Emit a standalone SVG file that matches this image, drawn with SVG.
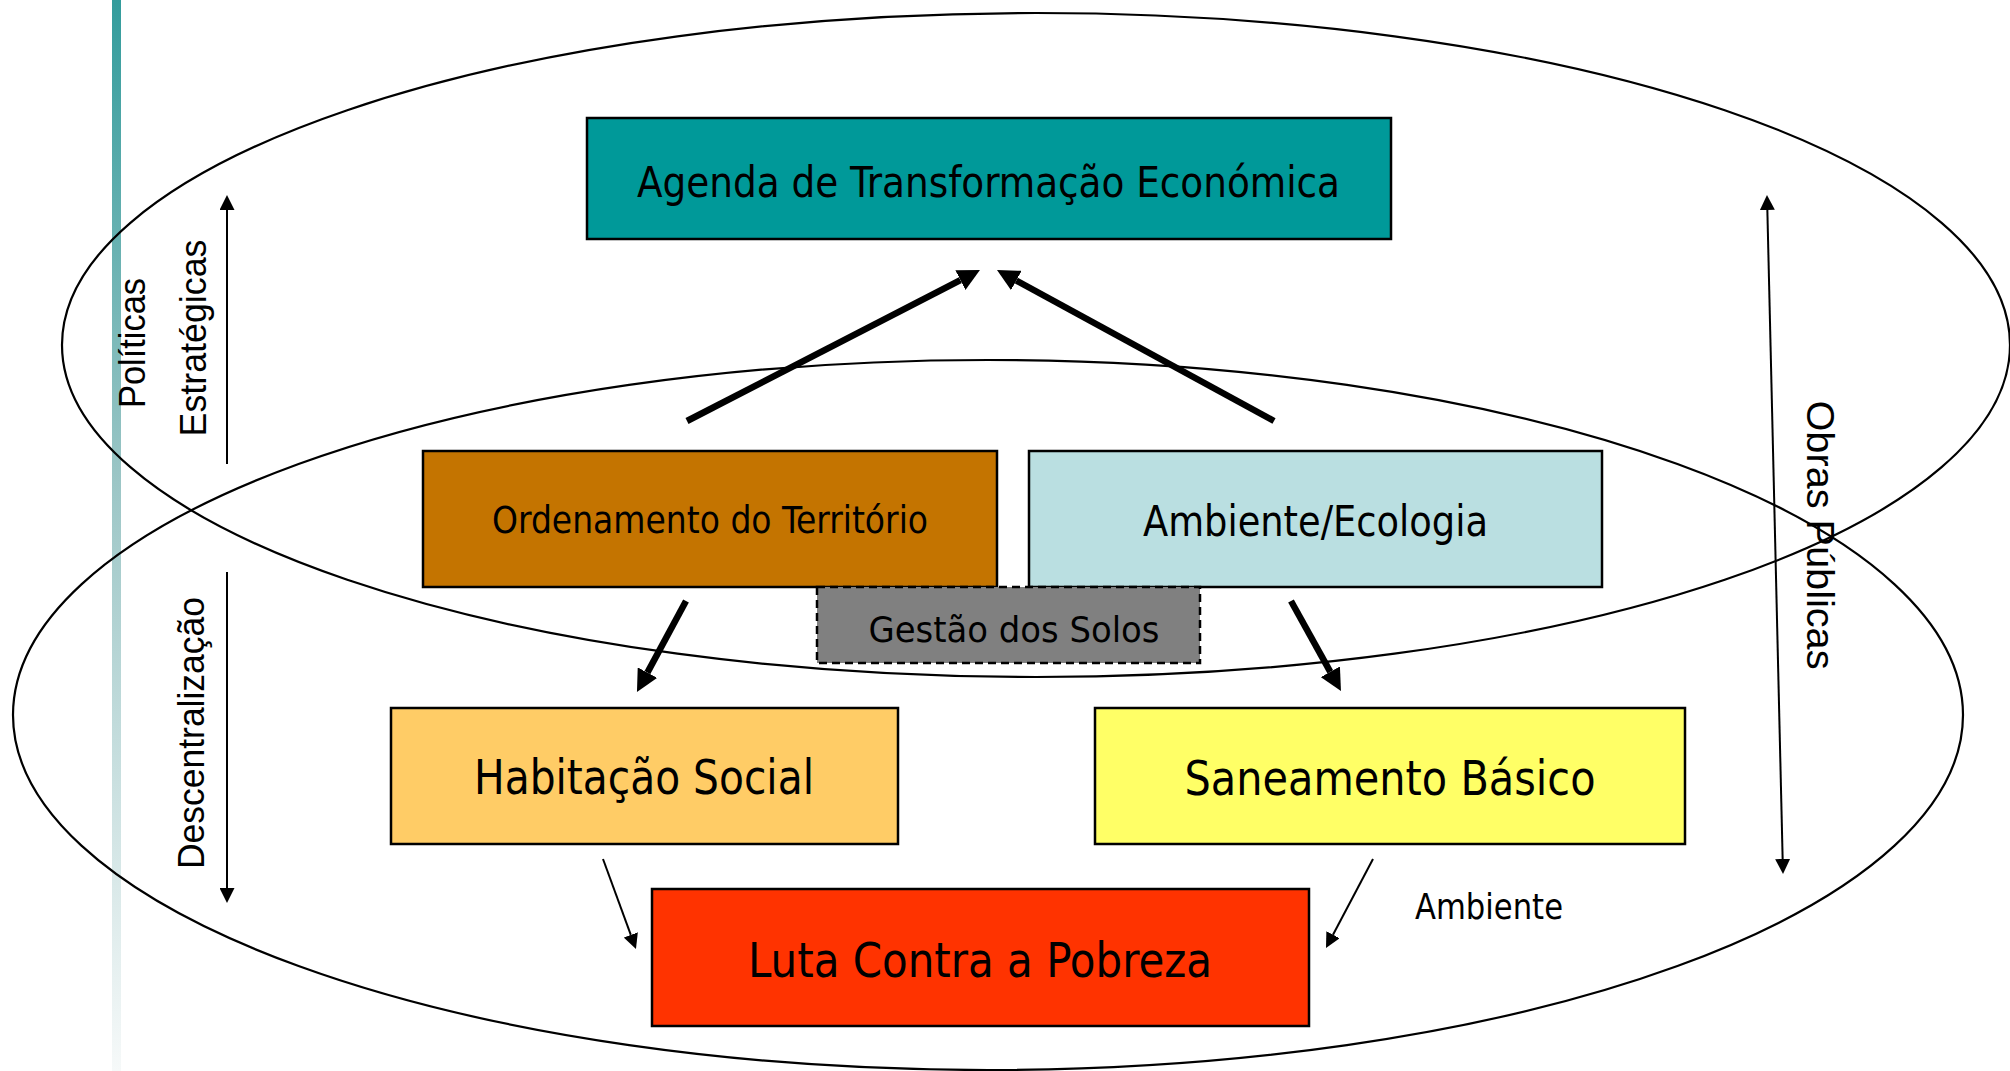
<svg xmlns="http://www.w3.org/2000/svg" width="2010" height="1071" viewBox="0 0 2010 1071">
<style>
.box{stroke:#000;stroke-width:2.5}
.dash{stroke:#000;stroke-width:2.5;stroke-dasharray:8 5}
.t{font-family:"DejaVu Sans Condensed","DejaVu Sans",sans-serif;text-anchor:middle;fill:#000}
.lbl{font-family:"Liberation Sans",Arial,sans-serif;fill:#000;text-anchor:middle}
.ell{fill:none;stroke:#000;stroke-width:2.2}
.thick{fill:none;stroke:#000;stroke-width:6.5;marker-end:url(#hThick)}
.thin{fill:none;stroke:#000;stroke-width:2;marker-end:url(#hThin)}
</style>
<defs>
<linearGradient id="bar" x1="0" y1="0" x2="0" y2="1">
<stop offset="0" stop-color="#339c9c"/>
<stop offset="0.45" stop-color="#9cc6c6"/>
<stop offset="1" stop-color="#f6f9f9"/>
</linearGradient>
<marker id="hThick" markerUnits="userSpaceOnUse" markerWidth="24" markerHeight="22" refX="0" refY="11" orient="auto"><path d="M0,0 L22,11 L0,22 z" fill="#000"/></marker>
<marker id="hThin" markerUnits="userSpaceOnUse" markerWidth="16" markerHeight="15" refX="0" refY="7.5" orient="auto-start-reverse"><path d="M0,0 L15,7.5 L0,15 z" fill="#000"/></marker>
</defs>
<rect x="0" y="0" width="2010" height="1071" fill="#fff"/>
<rect x="112" y="0" width="9" height="1071" fill="url(#bar)"/>
<g id="ellipses">
<ellipse class="ell" cx="1036" cy="345" rx="974" ry="332"/>
<ellipse class="ell" cx="988" cy="715" rx="975" ry="355"/>
</g>
<g id="agenda"><rect class="box" x="587" y="118" width="804" height="121" fill="#009999"/><text class="t" x="988.5" y="196.5" font-size="42.5" textLength="703" lengthAdjust="spacingAndGlyphs">Agenda de Transformação Económica</text></g>
<g id="ordenamento"><rect class="box" x="423" y="451" width="574" height="136" fill="#C47400"/><text class="t" x="710" y="533" font-size="37" textLength="436" lengthAdjust="spacingAndGlyphs">Ordenamento do Território</text></g>
<g id="ambiente-ecologia"><rect class="box" x="1029" y="451" width="573" height="136" fill="#BADFE1"/><text class="t" x="1315.5" y="536" font-size="42.5" textLength="345" lengthAdjust="spacingAndGlyphs">Ambiente/Ecologia</text></g>
<g id="gestao"><rect class="dash" x="817" y="587" width="383" height="76" fill="#808080"/><text class="t" x="1014" y="641.5" font-size="36" textLength="291" lengthAdjust="spacingAndGlyphs">Gestão dos Solos</text></g>
<g id="habitacao"><rect class="box" x="391" y="708" width="507" height="136" fill="#FFCC66"/><text class="t" x="644" y="794.3" font-size="47.5" textLength="340" lengthAdjust="spacingAndGlyphs">Habitação Social</text></g>
<g id="saneamento"><rect class="box" x="1095" y="708" width="590" height="136" fill="#FFFF66"/><text class="t" x="1390" y="794.6" font-size="47.5" textLength="411" lengthAdjust="spacingAndGlyphs">Saneamento Básico</text></g>
<g id="luta"><rect class="box" x="652" y="889" width="657" height="137" fill="#FF3300"/><text class="t" x="980" y="976.7" font-size="47.5" textLength="464" lengthAdjust="spacingAndGlyphs">Luta Contra a Pobreza</text></g>
<g id="connectors">
<path class="thick" d="M687,421 L960.4,280.1"/>
<path class="thick" d="M1274,421 L1016.3,280.5"/>
<path class="thick" d="M686,601 L647.4,672.6"/>
<path class="thick" d="M1291,601 L1330.3,671.8"/>
<path class="thin" d="M603,859 L630.8,934.9"/>
<path class="thin" d="M1373,859 L1333,934.7"/>
<path class="thin" d="M227,464 L227,210"/>
<path class="thin" d="M227,572 L227,888"/>
<path class="thin" style="marker-start:url(#hThin)" d="M1767.35,210 L1782.65,859"/>
</g>
<g id="labels">
<text class="lbl" transform="translate(145,343) rotate(-90)" font-size="37" textLength="130" lengthAdjust="spacingAndGlyphs">Políticas</text>
<text class="lbl" transform="translate(206,338) rotate(-90)" font-size="37" textLength="197" lengthAdjust="spacingAndGlyphs">Estratégicas</text>
<text class="lbl" transform="translate(204,733) rotate(-90)" font-size="37" textLength="272" lengthAdjust="spacingAndGlyphs">Descentralização</text>
<text class="lbl" transform="translate(1807,535) rotate(90)" font-size="39" textLength="269" lengthAdjust="spacingAndGlyphs">Obras Públicas</text>
<text class="t" x="1415" y="919.3" font-size="35" textLength="148" lengthAdjust="spacingAndGlyphs" style="text-anchor:start">Ambiente</text>
</g>
</svg>
